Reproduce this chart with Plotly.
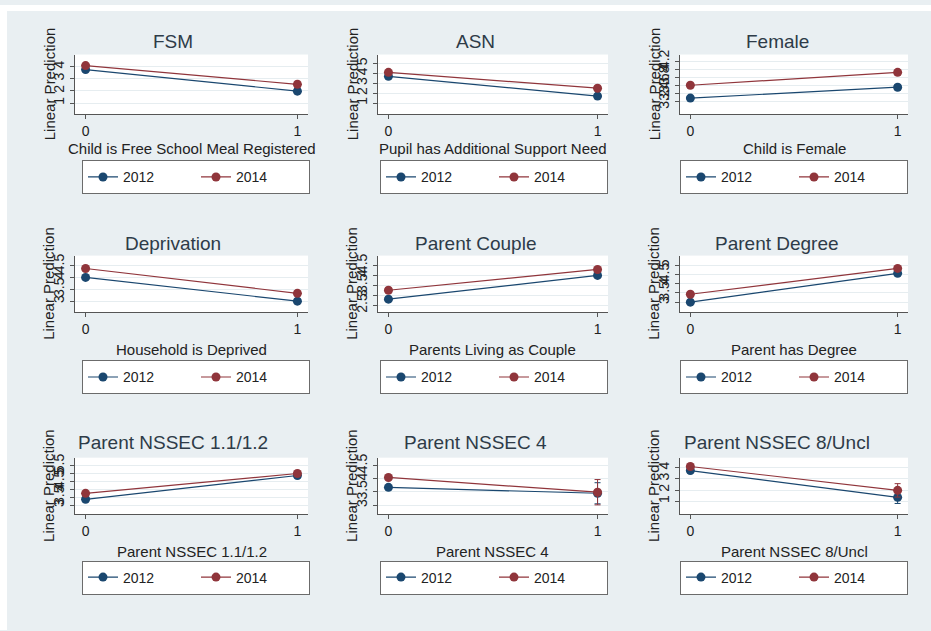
import plotly.graph_objects as go

W, H = 931, 631

# Panel titles and x-axis labels
titles = ["FSM", "ASN", "Female",
          "Deprivation", "Parent Couple", "Parent Degree",
          "Parent NSSEC 1.1/1.2", "Parent NSSEC 4", "Parent NSSEC 8/Uncl"]
xtitles = ["Child is Free School Meal Registered", "Pupil has Additional Support Need", "Child is Female",
           "Household is Deprived", "Parents Living as Couple", "Parent has Degree",
           "Parent NSSEC 1.1/1.2", "Parent NSSEC 4", "Parent NSSEC 8/Uncl"]
ytitle = "Linear Prediction"
levels = [0, 1]
years = ["2012", "2014"]

# Predicted margins at level 0 and 1 for each panel
pred_2012 = [[3.76, 1.98], [3.70, 1.70], [3.275, 3.55],
             [4.00, 3.00], [2.80, 4.00], [3.00, 4.57],
             [3.375, 4.875], [3.675, 3.45], [3.74, 1.35]]
pred_2014 = [[4.09, 2.54], [4.10, 2.50], [3.60, 3.925],
             [4.375, 3.33], [3.25, 4.30], [3.43, 4.84],
             [3.75, 5.00], [4.05, 3.49], [4.10, 1.97]]
# Half-widths of the 95% confidence intervals
ci_2012 = [[0.10, 0.20], [0.10, 0.20], [0.05, 0.06],
           [0.06, 0.10], [0.10, 0.06], [0.06, 0.08],
           [0.08, 0.10], [0.06, 0.40], [0.10, 0.55]]
ci_2014 = [[0.10, 0.25], [0.10, 0.20], [0.05, 0.06],
           [0.06, 0.10], [0.10, 0.06], [0.06, 0.08],
           [0.08, 0.10], [0.06, 0.48], [0.10, 0.60]]

# y-axis tick labels and ranges per panel
yticks = [[1, 2, 3, 4], [1, 2, 3, 4, 5], [3.2, 3.4, 3.6, 3.8, 4, 4.2],
          [3, 3.5, 4, 4.5], [2.5, 3, 3.5, 4, 4.5], [3, 3.5, 4, 4.5, 5],
          [3, 3.5, 4, 4.5, 5, 5.5], [3, 3.5, 4, 4.5], [1, 2, 3, 4]]
yranges = [[0.1, 5.0], [-0.1, 5.9], [2.875, 4.375],
           [2.54, 4.92], [2.15, 5.0], [2.46, 5.54],
           [2.44, 6.0], [2.66, 4.80], [-0.15, 4.89]]

COL_2012 = "#1a476f"
COL_2014 = "#90353b"
BG = "#e9eff2"
TXT = "#222222"
FONT = "Liberation Sans, Arial, sans-serif"

# Subplot placement in pixels
col_x = [(75, 308), (378, 608), (680, 908)]
row_y = [(50, 110), (253, 310), (457, 514)]
title_y = [37, 241, 442]
title_x = [173, 475, 777]
xtitle_y = [145, 348, 552]
legend_y = [174, 376, 578]
legend_x = [196, 494, 794]


def fx(px):
    return px / W


def fy(py):
    return 1 - py / H


fig = go.Figure()
annotations = []
layout = {}

for i in range(9):
    r, c = divmod(i, 3)
    n = i + 1
    xa = "x" if n == 1 else f"x{n}"
    ya = "y" if n == 1 else f"y{n}"
    leg = "legend" if n == 1 else f"legend{n}"
    x0, x1 = col_x[c]
    y0, y1 = row_y[r]

    for yr, vals, ci, col in [(years[0], pred_2012[i], ci_2012[i], COL_2012),
                              (years[1], pred_2014[i], ci_2014[i], COL_2014)]:
        fig.add_trace(go.Scatter(
            x=levels, y=vals, name=yr, mode="lines+markers",
            xaxis=xa, yaxis=ya, legend=leg,
            line=dict(color=col, width=1.2),
            marker=dict(color=col, size=9),
            error_y=dict(type="data", array=ci, color=col, thickness=1, width=3),
        ))

    axkey = "xaxis" if n == 1 else f"xaxis{n}"
    aykey = "yaxis" if n == 1 else f"yaxis{n}"
    layout[axkey] = dict(
        domain=[fx(x0), fx(x1)], anchor=ya, range=[-0.05, 1.05],
        tickvals=levels, ticktext=[str(v) for v in levels],
        ticks="outside", ticklen=4, tickcolor="#555",
        showline=True, linecolor="#555", linewidth=1,
        showgrid=False, zeroline=False,
        tickfont=dict(size=14, color=TXT, family=FONT),
        fixedrange=True,
    )
    layout[aykey] = dict(
        domain=[fy(y1), fy(y0)], anchor=xa, range=yranges[i],
        tickvals=yticks[i], ticktext=[f"{v:g}" for v in yticks[i]],
        tickangle=-90, ticks="outside", ticklen=4, tickcolor="#555",
        showline=True, linecolor="#555", linewidth=1,
        showgrid=True, gridcolor="#e6edf0", gridwidth=1, zeroline=False,
        tickfont=dict(size=14, color=TXT, family=FONT),
        fixedrange=True,
    )
    layout[leg] = dict(
        orientation="h", x=fx(legend_x[c]), y=fy(legend_y[r]),
        xanchor="center", yanchor="middle",
        bgcolor="white", bordercolor="#6b6b6b", borderwidth=1,
        font=dict(size=14, color=TXT, family=FONT),
        entrywidth=68, entrywidthmode="pixels", traceorder="normal",
    )

    annotations.append(dict(
        text=titles[i], x=fx(title_x[c]), y=fy(title_y[r]), xref="paper", yref="paper",
        xanchor="center", yanchor="middle", showarrow=False,
        font=dict(size=19, color="#2e3b48", family=FONT)))
    annotations.append(dict(
        text=xtitles[i], x=fx((x0 + x1) / 2), y=fy(xtitle_y[r]), xref="paper", yref="paper",
        xanchor="center", yanchor="middle", showarrow=False,
        font=dict(size=15, color=TXT, family=FONT)))
    annotations.append(dict(
        text=ytitle, x=fx(x0 - 26), y=fy((y0 + y1) / 2), xref="paper", yref="paper",
        xanchor="center", yanchor="middle", showarrow=False, textangle=-90,
        font=dict(size=15, color=TXT, family=FONT)))

# Thin white frame along the top and left edges of the page
shapes = [
    dict(type="rect", xref="paper", yref="paper", x0=0, x1=1, y0=fy(6), y1=1,
         fillcolor="white", line=dict(width=0), layer="below"),
    dict(type="rect", xref="paper", yref="paper", x0=0, x1=fx(7), y0=0, y1=1,
         fillcolor="white", line=dict(width=0), layer="below"),
]

fig.update_layout(
    width=W, height=H,
    margin=dict(l=0, r=0, t=0, b=0),
    paper_bgcolor=BG, plot_bgcolor="white",
    font=dict(family=FONT, color=TXT),
    annotations=annotations, shapes=shapes,
    showlegend=True,
    **layout,
)

fig.write_html("out.html", config={"displayModeBar": False})
